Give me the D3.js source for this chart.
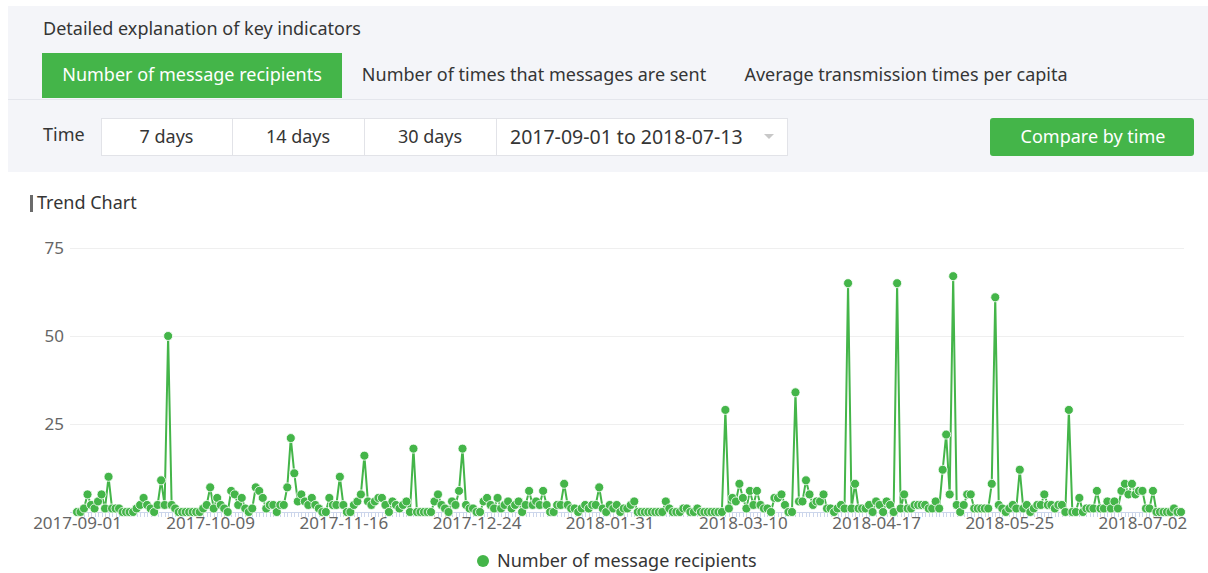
<!DOCTYPE html>
<html>
<head>
<meta charset="utf-8">
<script src="https://cdn.jsdelivr.net/npm/d3@7"></script>
<style>
  body { margin: 0; background: #fff; }
  svg { display: block; font-family: "Noto Sans", "Open Sans", sans-serif; }
</style>
</head>
<body>
<svg id="chart" width="1208" height="573"></svg>
<script>
// daily values, 2017-09-01 .. 2018-07-13
var startDate = "2017-09-01";
var endDate = "2018-07-13";
var values = [
  0,0,1,5,2,1,3,5,1,10,
  1,1,1,0,0,0,0,1,2,4,
  2,1,0,2,9,2,50,2,1,0,
  0,0,0,0,0,0,1,2,7,1,
  4,2,1,0,6,5,2,4,1,0,
  1,7,6,4,1,2,2,0,2,2,
  7,21,11,3,5,3,2,4,2,1,
  0,0,4,2,2,10,2,0,0,2,
  3,5,16,3,2,3,4,4,2,0,
  3,2,1,2,3,0,18,0,0,0,
  0,0,3,5,2,1,0,3,2,6,
  18,2,1,1,0,0,3,4,2,1,
  4,1,2,3,1,2,3,0,2,6,
  2,3,2,6,2,0,0,2,2,8,
  2,1,1,0,1,2,1,2,2,7,
  1,0,2,1,2,0,1,1,2,3,
  0,0,0,0,0,0,0,0,3,1,
  0,0,0,1,1,0,0,1,0,0,
  0,0,0,0,0,29,1,4,3,8,
  4,1,6,2,6,2,1,1,0,4,
  4,5,2,0,0,34,3,3,9,5,
  2,3,3,5,1,1,0,1,2,1,
  65,1,8,1,1,1,2,0,3,2,
  0,3,2,0,65,1,5,1,1,2,
  2,2,2,1,1,3,1,12,22,5,
  67,2,0,2,5,5,1,1,1,1,
  1,8,61,2,1,0,1,2,1,12,
  1,2,0,1,2,2,5,2,2,1,
  2,2,0,29,0,0,4,0,1,1,
  1,6,1,1,3,1,3,1,6,8,
  5,8,5,6,6,1,1,6,0,0,
  0,0,0,1,0,0
];
var yTicks = [25, 50, 75];
var xTickLabels = ["2017-09-01","2017-10-09","2017-11-16","2017-12-24","2018-01-31",
                   "2018-03-10","2018-04-17","2018-05-25","2018-07-02"];
var tabs = ["Number of message recipients", "Number of times that messages are sent", "Average transmission times per capita"];
var ranges = ["7 days", "14 days", "30 days"];
var seriesName = "Number of message recipients";

var green = "#44b549";
var txt = "#353535";
var svg = d3.select("#chart");

// ---- header panel ----
svg.append("rect").attr("x", 8).attr("y", 6).attr("width", 1200).attr("height", 166).attr("fill", "#f4f5f9");
svg.append("line").attr("x1", 8).attr("x2", 1208).attr("y1", 99.5).attr("y2", 99.5).attr("stroke", "#e4e6ec");
svg.append("text").attr("x", 43).attr("y", 35).attr("font-size", 18).attr("fill", txt)
  .text("Detailed explanation of key indicators");

var tabX = [42, 342, 726];
var tabW = [300, 384, 360];
tabs.forEach(function(t, i) {
  if (i === 0) {
    svg.append("rect").attr("x", tabX[i]).attr("y", 53).attr("width", tabW[i]).attr("height", 45).attr("fill", green);
  }
  svg.append("text").attr("x", tabX[i] + tabW[i] / 2).attr("y", 81)
    .attr("text-anchor", "middle").attr("font-size", 18)
    .attr("fill", i === 0 ? "#fff" : txt).text(t);
});

svg.append("text").attr("x", 43).attr("y", 141).attr("font-size", 18).attr("fill", txt).text("Time");
var cellX = [101, 232, 364, 496, 788];
svg.append("rect").attr("x", 101.5).attr("y", 118.5).attr("width", 686).attr("height", 37)
  .attr("fill", "#fff").attr("stroke", "#e2e3e8");
ranges.forEach(function(r, i) {
  svg.append("line").attr("x1", cellX[i + 1] + 0.5).attr("x2", cellX[i + 1] + 0.5)
    .attr("y1", 118).attr("y2", 156).attr("stroke", "#e2e3e8");
  svg.append("text").attr("x", (cellX[i] + cellX[i + 1]) / 2).attr("y", 143)
    .attr("text-anchor", "middle").attr("font-size", 18).attr("fill", txt).text(r);
});
svg.append("text").attr("x", 510).attr("y", 144).attr("font-size", 19.5).attr("fill", txt)
  .text(startDate + " to " + endDate);
svg.append("path").attr("d", "M764,134 L774,134 L769,139 Z").attr("fill", "#c8c8c8");

svg.append("rect").attr("x", 990).attr("y", 118).attr("width", 204).attr("height", 38).attr("rx", 3).attr("fill", green);
svg.append("text").attr("x", 1093).attr("y", 143).attr("text-anchor", "middle").attr("font-size", 18)
  .attr("fill", "#fff").text("Compare by time");

// ---- chart title ----
svg.append("rect").attr("x", 30).attr("y", 195).attr("width", 3).attr("height", 17).attr("fill", "#6b6b6b");
svg.append("text").attr("x", 37).attr("y", 209).attr("font-size", 18).attr("fill", txt).text("Trend Chart");

// ---- chart ----
var parse = d3.timeParse("%Y-%m-%d");
var fmt = d3.timeFormat("%Y-%m-%d");
var t0 = parse(startDate);
var data = values.map(function(v, i) { return { date: d3.timeDay.offset(t0, i), value: v }; });

var x = d3.scaleTime().domain([data[0].date, data[data.length - 1].date]).range([77, 1181]);
var y = d3.scaleLinear().domain([0, 75]).range([512, 248]);

var grid = svg.append("g");
yTicks.forEach(function(t) {
  grid.append("line").attr("x1", 70).attr("x2", 1184)
    .attr("y1", Math.round(y(t)) + 0.5).attr("y2", Math.round(y(t)) + 0.5).attr("stroke", "#efefef");
  grid.append("text").attr("x", 64).attr("y", y(t) + 6).attr("text-anchor", "end")
    .attr("font-size", 17).attr("fill", "#666").text(t);
});

// x axis: labels every 38 days, minor ticks every day
var xAxis = d3.axisBottom(x)
  .tickValues(xTickLabels.map(parse))
  .tickFormat(fmt)
  .tickSize(0)
  .tickPadding(5);
var gx = svg.append("g").attr("transform", "translate(0,512)").call(xAxis);
gx.select(".domain").remove();
gx.selectAll("text").attr("font-size", 17).attr("fill", "#666").attr("font-family", "Noto Sans, sans-serif");

var minor = svg.append("g");
minor.append("line").attr("x1", 70).attr("x2", 1184).attr("y1", 512.5).attr("y2", 512.5).attr("stroke", "#ccd6eb");
minor.selectAll("line.tick").data(data).enter().append("line").attr("class", "tick")
  .attr("x1", function(d) { return Math.round(x(d.date)) + 0.5; })
  .attr("x2", function(d) { return Math.round(x(d.date)) + 0.5; })
  .attr("y1", 512).attr("y2", 517).attr("stroke", "#ccd6eb");

var line = d3.line().x(function(d) { return x(d.date); }).y(function(d) { return y(d.value); });
svg.append("path").datum(data).attr("d", line).attr("fill", "none").attr("stroke", green).attr("stroke-width", 2);

svg.append("g").selectAll("circle").data(data).enter().append("circle")
  .attr("cx", function(d) { return x(d.date); })
  .attr("cy", function(d) { return y(d.value); })
  .attr("r", 4.5)
  .attr("fill", green)
  .attr("stroke", "#fff")
  .attr("stroke-width", 0.8);

// legend
svg.append("circle").attr("cx", 483).attr("cy", 561).attr("r", 6).attr("fill", green);
svg.append("text").attr("x", 497).attr("y", 567).attr("font-size", 18).attr("fill", txt).text(seriesName);
</script>
</body>
</html>
